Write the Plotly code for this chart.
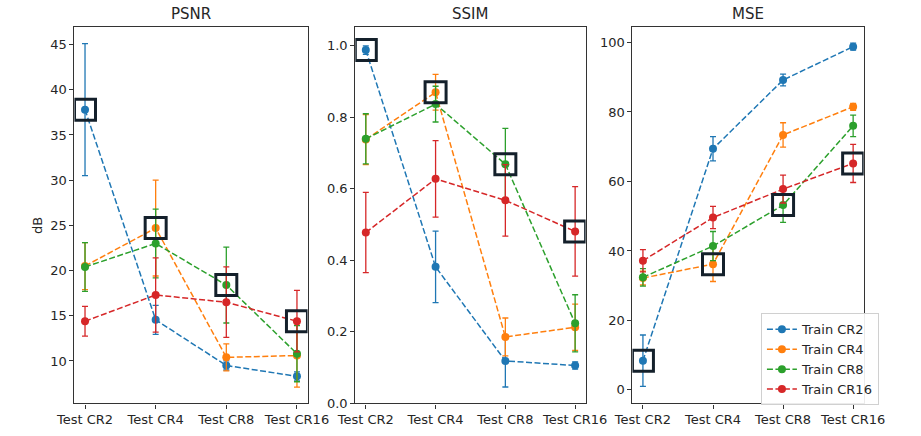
import plotly.graph_objects as go

categories = ["Test CR2", "Test CR4", "Test CR8", "Test CR16"]
series_names = ["Train CR2", "Train CR4", "Train CR8", "Train CR16"]
colors = ["#1f77b4", "#ff7f0e", "#2ca02c", "#d62728"]

psnr_cr2 = [37.8, 14.55, 9.5, 8.3]
psnr_cr4 = [20.5, 24.7, 10.4, 10.6]
psnr_cr8 = [20.4, 23.0, 18.4, 10.8]
psnr_cr16 = [14.4, 17.3, 16.5, 14.4]
psnr_err_cr2 = [7.3, 1.6, 0.5, 0.5]
psnr_err_cr4 = [2.6, 5.3, 1.5, 3.5]
psnr_err_cr8 = [2.7, 3.8, 4.2, 3.1]
psnr_err_cr16 = [1.65, 4.1, 3.9, 3.4]

ssim_cr2 = [0.988, 0.382, 0.119, 0.106]
ssim_cr4 = [0.738, 0.870, 0.186, 0.213]
ssim_cr8 = [0.740, 0.837, 0.669, 0.224]
ssim_cr16 = [0.478, 0.628, 0.568, 0.481]
ssim_err_cr2 = [0.012, 0.10, 0.073, 0.01]
ssim_err_cr4 = [0.07, 0.05, 0.053, 0.065]
ssim_err_cr8 = [0.07, 0.05, 0.10, 0.08]
ssim_err_cr16 = [0.112, 0.107, 0.10, 0.125]

mse_cr2 = [8.4, 69.4, 89.2, 98.8]
mse_cr4 = [32.2, 36.2, 73.4, 81.5]
mse_cr8 = [32.4, 41.4, 53.2, 76.0]
mse_cr16 = [37.2, 49.6, 57.8, 65.2]
mse_err_cr2 = [7.4, 3.5, 1.7, 1.0]
mse_err_cr4 = [2.0, 5.0, 3.5, 1.0]
mse_err_cr8 = [2.5, 4.2, 5.0, 3.1]
mse_err_cr16 = [3.2, 3.2, 4.0, 5.5]

panels = [
    ("PSNR", [psnr_cr2, psnr_cr4, psnr_cr8, psnr_cr16],
     [psnr_err_cr2, psnr_err_cr4, psnr_err_cr8, psnr_err_cr16]),
    ("SSIM", [ssim_cr2, ssim_cr4, ssim_cr8, ssim_cr16],
     [ssim_err_cr2, ssim_err_cr4, ssim_err_cr8, ssim_err_cr16]),
    ("MSE", [mse_cr2, mse_cr4, mse_cr8, mse_cr16],
     [mse_err_cr2, mse_err_cr4, mse_err_cr8, mse_err_cr16]),
]

W, H = 921, 436
x_domains = [(58 / W, 302 / W), (352 / W, 593 / W), (642 / W, 884 / W)]
y_domain = (1 - 411 / H, 1 - 27 / H)
y_ranges = [[5.3, 47.0], [0.0, 1.054], [-3.9, 104.6]]
y_ticks = [
    [10, 15, 20, 25, 30, 35, 40, 45],
    [0.0, 0.2, 0.4, 0.6, 0.8, 1.0],
    [0, 20, 40, 60, 80, 100],
]
y_tickfmt = ["", ".1f", ""]

FONT = "DejaVu Sans"
TXT = "#262626"
FRAME = "#333333"

fig = go.Figure()
layout = dict(
    width=W, height=H, margin=dict(l=0, r=0, t=0, b=0),
    paper_bgcolor="white", plot_bgcolor="white",
    font=dict(family=FONT, size=13, color=TXT),
    showlegend=True,
    legend=dict(
        x=900 / W, y=1 - 413 / H, xanchor="right", yanchor="bottom",
        bgcolor="rgba(255,255,255,0.9)", bordercolor="#d0d0d0", borderwidth=1,
        font=dict(family=FONT, size=13, color=TXT),
        itemsizing="trace", tracegroupgap=0,
    ),
)
annotations = []

for p, (title, vals, errs) in enumerate(panels):
    xa = "x" if p == 0 else f"x{p+1}"
    ya = "y" if p == 0 else f"y{p+1}"
    for s in range(4):
        fig.add_trace(go.Scatter(
            x=categories, y=vals[s], name=series_names[s],
            mode="lines+markers",
            line=dict(color=colors[s], width=1.5, dash="6px,2.5px"),
            marker=dict(color=colors[s], size=8, symbol="circle"),
            error_y=dict(type="data", array=errs[s], visible=True,
                         color=colors[s], thickness=1.3, width=3),
            xaxis=xa, yaxis=ya, legendgroup=series_names[s],
            showlegend=(p == 2),
        ))
    # highlight the matched train/test pairs (diagonal)
    fig.add_trace(go.Scatter(
        x=categories, y=[vals[i][i] for i in range(4)],
        mode="markers",
        marker=dict(symbol="square-open", size=21, color="#14202b",
                    line=dict(width=3, color="#14202b")),
        xaxis=xa, yaxis=ya, showlegend=False, hoverinfo="skip",
    ))
    xkey = "xaxis" if p == 0 else f"xaxis{p+1}"
    ykey = "yaxis" if p == 0 else f"yaxis{p+1}"
    layout[xkey] = dict(
        domain=list(x_domains[p]), anchor=ya, type="category",
        range=[-0.15, 3.15], showline=True, mirror=True, linecolor=FRAME,
        linewidth=1.2, ticks="outside", ticklen=4, tickcolor=FRAME,
        showgrid=False, zeroline=False,
        tickfont=dict(family=FONT, size=13, color=TXT),
    )
    layout[ykey] = dict(
        domain=list(y_domain), anchor=xa, range=y_ranges[p],
        tickvals=y_ticks[p], tickformat=y_tickfmt[p],
        showline=True, mirror=True, linecolor=FRAME, linewidth=1.2,
        ticks="outside", ticklen=4, tickcolor=FRAME,
        showgrid=False, zeroline=False,
        tickfont=dict(family=FONT, size=13, color=TXT),
    )
    annotations.append(dict(
        text=title, x=(x_domains[p][0] + x_domains[p][1]) / 2, y=1 - 14 / H,
        xref="paper", yref="paper", showarrow=False, xanchor="center",
        yanchor="middle", font=dict(family=FONT, size=15, color=TXT),
    ))

annotations.append(dict(
    text="dB", x=20 / W, y=1 - 230 / H, xref="paper", yref="paper",
    showarrow=False, textangle=-90, xanchor="center", yanchor="middle",
    font=dict(family=FONT, size=13, color=TXT),
))
layout["annotations"] = annotations
fig.update_layout(**layout)

fig.write_html("out.html")
